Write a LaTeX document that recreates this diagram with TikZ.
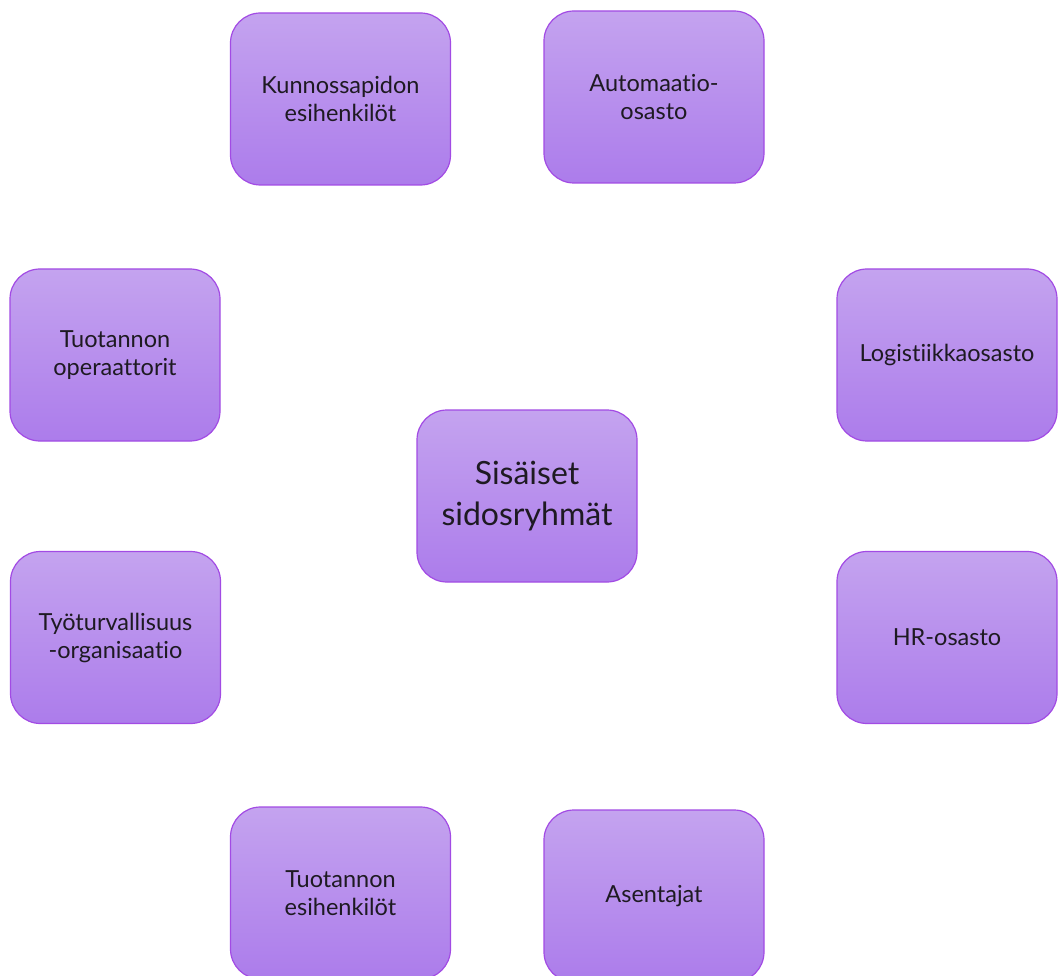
\documentclass[tikz,border=0pt]{standalone}
\usepackage{fontspec}
\setmainfont{Lato}[Ligatures={NoCommon}]
\definecolor{boxtop}{HTML}{C4A3EF}
\definecolor{boxbot}{HTML}{AC7CEB}
\definecolor{boxline}{HTML}{A24BE4}
\definecolor{txt}{HTML}{1E1A22}
\begin{document}
\begin{tikzpicture}[x=1pt,y=-1pt,
  groupbox/.style={draw=boxline, line width=1.2pt, rounded corners=30pt,
    top color=boxtop, bottom color=boxbot, minimum width=220pt, minimum height=172pt,
    align=center, font=\fontsize{23.5}{28}\selectfont, text=txt, inner sep=0pt},
  narrowbox/.style={groupbox, minimum width=210pt},
  centerbox/.style={groupbox, font=\fontsize{32}{41}\selectfont}]
\useasboundingbox (0,0) rectangle (1058,976);
\clip (0,0) rectangle (1058,976);
\node[groupbox] (kunn) at (340.5,99) {Kunnossapidon\\esihenkilöt};
\node[groupbox] (auto) at (654,97) {Automaatio-\\osasto};
\node[narrowbox] (oper) at (115,355) {Tuotannon\\operaattorit};
\node[groupbox] (logi) at (947,355) {Logistiikkaosasto};
\node[centerbox] (center) at (527,496) {Sisäiset\\sidosryhmät};
\node[narrowbox] (tyot) at (115.5,637.5) {Työturvallisuus\\-organisaatio};
\node[groupbox] (hr) at (947,637.5) {HR-osasto};
\node[groupbox] (tesi) at (340.5,893) {Tuotannon\\esihenkilöt};
\node[groupbox] (asen) at (654,896) {Asentajat};
\end{tikzpicture}
\end{document}
